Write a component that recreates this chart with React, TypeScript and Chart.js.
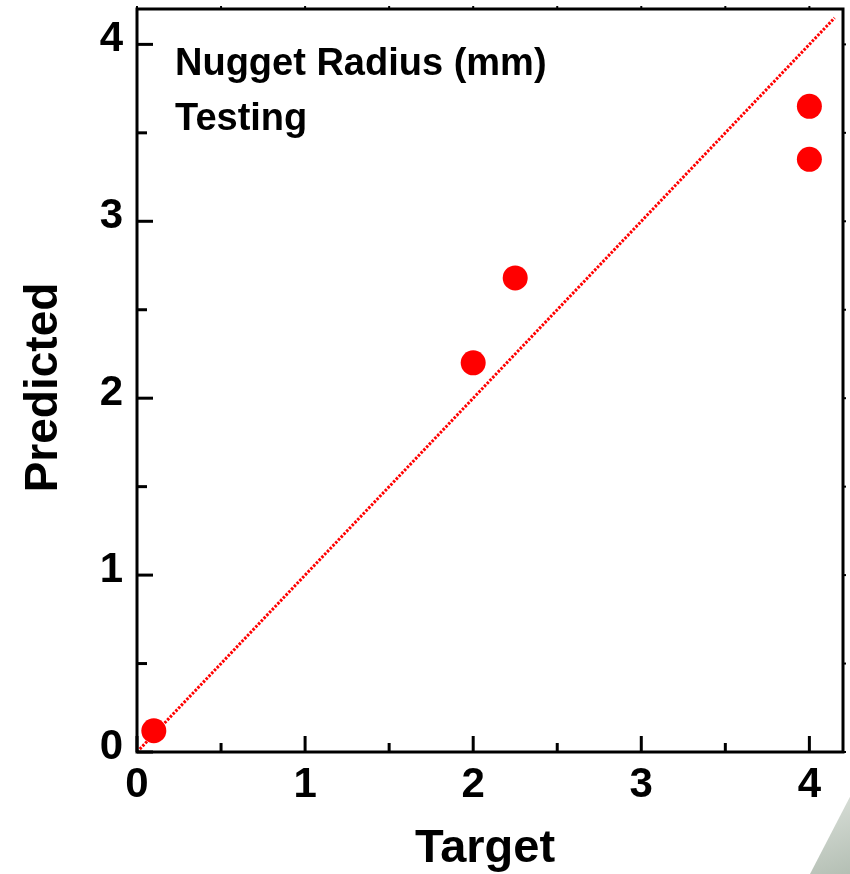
import React, { useEffect, useRef } from "react";
import { Chart, registerables } from "chart.js";

Chart.register(...registerables);

// ---- data ----
const targetValues = [0.1, 2.0, 2.25, 4.0, 4.0];
const predictedValues = [0.12, 2.2, 2.68, 3.65, 3.35];
const identityLine = [0, 4.15];
const majorTicks = [0, 1, 2, 3, 4];
const minorTicks = [0.5, 1.5, 2.5, 3.5];
const axisMin = 0;
const axisMax = 4.2;
const annotationLines = ["Nugget Radius (mm)", "Testing"];
const xTitle = "Target";
const yTitle = "Predicted";

const FONT = "'Liberation Sans', Arial, Helvetica, sans-serif";

const framePlugin = {
  id: "frame",
  afterDatasetsDraw(chart: any) {
    const { ctx, chartArea, scales } = chart;
    const { left, right, top, bottom } = chartArea;
    const xs = scales.x;
    const ys = scales.y;
    ctx.save();
    ctx.strokeStyle = "#000";
    ctx.lineWidth = 3;
    ctx.lineCap = "butt";
    ctx.strokeRect(left, top, right - left, bottom - top);

    const tick = (x1: number, y1: number, x2: number, y2: number, w: number) => {
      ctx.lineWidth = w;
      ctx.beginPath();
      ctx.moveTo(x1, y1);
      ctx.lineTo(x2, y2);
      ctx.stroke();
    };
    majorTicks.forEach((v) => {
      const px = xs.getPixelForValue(v);
      tick(px, bottom, px, bottom - 16, 3);
      tick(px, top, px, top - 3, 2);
      const py = ys.getPixelForValue(v);
      tick(left, py, left + 16, py, 3);
      tick(right, py, right + 3, py, 2);
    });
    minorTicks.forEach((v) => {
      const px = xs.getPixelForValue(v);
      tick(px, bottom, px, bottom - 9, 3);
      tick(px, top, px, top - 3, 2);
      const py = ys.getPixelForValue(v);
      tick(left, py, left + 10, py, 3);
      tick(right, py, right + 3, py, 2);
    });

    ctx.fillStyle = "#000";
    ctx.font = `bold 38px ${FONT}`;
    ctx.textAlign = "left";
    ctx.textBaseline = "alphabetic";
    annotationLines.forEach((t, i) => {
      ctx.fillText(t, left + 38, top + 66 + i * 55);
    });

    // axis titles
    ctx.font = `bold 47px ${FONT}`;
    ctx.textAlign = "center";
    ctx.textBaseline = "alphabetic";
    const xMid = xs.getPixelForValue((axisMin + axisMax) / 2) - 5;
    ctx.fillText(xTitle, xMid, bottom + 110);

    ctx.font = `bold 46px ${FONT}`;
    const yMid = ys.getPixelForValue((axisMin + axisMax) / 2) + 7;
    ctx.translate(left - 80, yMid);
    ctx.rotate(-Math.PI / 2);
    ctx.fillText(yTitle, 0, 0);
    ctx.restore();
  },
};

export default function App() {
  const ref = useRef<HTMLCanvasElement | null>(null);

  useEffect(() => {
    if (!ref.current) return;
    const chart = new Chart(ref.current, {
      type: "scatter",
      data: {
        datasets: [
          {
            label: "Testing",
            data: targetValues.map((x, i) => ({ x, y: predictedValues[i] })),
            backgroundColor: "#ff0000",
            borderWidth: 0,
            pointRadius: 12.5,
            pointHoverRadius: 12.5,
            order: 0,
          },
          {
            label: "Identity",
            type: "line",
            data: identityLine.map((v) => ({ x: v, y: v })),
            borderColor: "#ff0000",
            borderWidth: 3,
            borderDash: [2.5, 1.5],
            pointRadius: 0,
            fill: false,
            order: 1,
          } as any,
        ],
      },
      options: {
        responsive: false,
        animation: false,
        layout: { autoPadding: false, padding: { top: 9, right: 7, left: 0, bottom: 0 } },
        plugins: {
          legend: { display: false },
          tooltip: { enabled: false },
          title: { display: false },
        },
        scales: {
          x: {
            type: "linear",
            min: axisMin,
            max: axisMax,
            afterBuildTicks: (s: any) => {
              s.ticks = majorTicks.map((v) => ({ value: v }));
            },
            afterFit: (s: any) => {
              s.height = 122;
              s.paddingLeft = 0;
              s.paddingRight = 0;
              s.paddingTop = 0;
              s.paddingBottom = 0;
            },
            grid: { display: false, drawTicks: false },
            border: { display: false },
            ticks: {
              color: "#000",
              font: { family: FONT, size: 42, weight: "bold" },
              padding: 8,
              maxRotation: 0,
              callback: (v: any) => String(v),
            },
            title: { display: false },
          },
          y: {
            type: "linear",
            min: axisMin,
            max: axisMax,
            afterBuildTicks: (s: any) => {
              s.ticks = majorTicks.map((v) => ({ value: v }));
            },
            afterFit: (s: any) => {
              s.width = 137;
              s.paddingLeft = 0;
              s.paddingRight = 0;
              s.paddingTop = 0;
              s.paddingBottom = 0;
            },
            grid: { display: false, drawTicks: false },
            border: { display: false },
            ticks: {
              color: "#000",
              font: { family: FONT, size: 42, weight: "bold" },
              padding: 14,
              labelOffset: -5,
              callback: (v: any) => String(v),
            },
            title: { display: false },
          },
        },
      },
      plugins: [framePlugin],
    });
    return () => chart.destroy();
  }, []);

  return (
    <div style={{ position: "absolute", left: 0, top: 0, width: 850, height: 874, background: "#fff", overflow: "hidden" }}>
      <canvas ref={ref} width={850} height={874} style={{ position: "absolute", left: 0, top: 0 }} />
      <div
        style={{
          position: "absolute",
          left: 800,
          top: 790,
          width: 50,
          height: 84,
          background: "linear-gradient(160deg, #dfe4de 0%, #b4bfb4 100%)",
          clipPath: "polygon(100% 8%, 100% 100%, 20% 100%)",
        }}
      />
    </div>
  );
}
